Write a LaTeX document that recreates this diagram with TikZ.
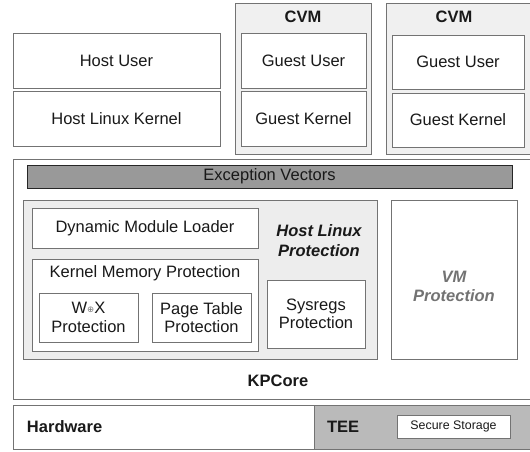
\documentclass[tikz,border=0pt]{standalone}
\usepackage{fontspec}
\setmainfont{Liberation Sans}
\newfontfamily\symfont{DejaVu Sans}
\begin{document}
\begin{tikzpicture}[x=1pt,y=-1pt,
  every node/.style={inner sep=0pt, outer sep=0pt},
  box/.style={draw=black!55, line width=0.9pt, fill=white, rectangle, anchor=north west,
    font=\fontsize{16.5}{18.5}\selectfont, align=center, text=black!90},
  lbl/.style={font=\fontsize{16.5}{18.5}\selectfont, align=center, text=black!90},
  blbl/.style={font=\fontsize{16.5}{18.5}\selectfont\bfseries, align=center, text=black!90}
]
\useasboundingbox (0,0) rectangle (530,451);
\clip (0,0) rectangle (530,451);
\newcommand\mybox[6][]{\node[box,#1, minimum width=#4pt, minimum height=#5pt] (#2) at #3 {#6};}
% top row
\mybox{hu}{(13,33)}{207}{55}{Host User}
\mybox{hk}{(13,91)}{207}{55}{Host Linux Kernel}
\mybox[fill=black!6]{cvma}{(235,3)}{136}{151}{}
\node[blbl] (cvmal) at (303,17) {CVM};
\mybox{gua}{(241,33)}{125}{55}{Guest User}
\mybox{gka}{(241,91)}{125}{55}{Guest Kernel}
\mybox[fill=black!6]{cvmb}{(386,3)}{150}{151}{}
\node[blbl] (cvmbl) at (454,17) {CVM};
\mybox{gub}{(392,35)}{132}{54}{Guest User}
\mybox{gkb}{(392,93)}{132}{54}{Guest Kernel}
% KPCore
\mybox{kp}{(13,159)}{525}{240}{}
\node[blbl] (kpl) at (278,381) {KPCore};
\mybox[fill=black!40, draw=black!85]{ev}{(27,165)}{485}{23}{Exception Vectors}
\mybox[fill=black!7]{hlp}{(23,200)}{354}{159}{}
\mybox{dml}{(32,208)}{226}{40}{Dynamic Module Loader}
\node[blbl, font=\fontsize{16.5}{20}\selectfont\bfseries\itshape] (hlpl) at (319,241) {Host Linux\\Protection};
\mybox{kmp}{(32,259)}{226}{92}{}
\node[lbl] (kmpl) at (145,273) {Kernel Memory Protection};
\mybox{wx}{(39,293)}{99}{49}{W\raisebox{1.5pt}{\symfont\fontsize{8.5}{8.5}\selectfont\color{black!55}⊕}X\\Protection}
\mybox{pt}{(152,293)}{99}{49}{Page Table\\Protection}
\mybox{sr}{(267,280)}{98}{68}{Sysregs\\Protection}
\mybox{vm}{(391,200)}{126}{159}{}
\node[blbl, font=\fontsize{16.5}{19}\selectfont\bfseries\itshape, text=black!55] (vml) at (454,286) {VM\\Protection};
% bottom row
\mybox{hw}{(13,405)}{301}{44}{}
\node[blbl, anchor=west] (hwl) at (27,427) {Hardware};
\mybox[fill=black!27]{tee}{(314,405)}{220}{44}{}
\node[blbl, anchor=west] (teel) at (327,427) {TEE};
\mybox[font=\fontsize{12.4}{14}\selectfont]{ss}{(397,415)}{113}{23}{Secure Storage}
\end{tikzpicture}
\end{document}
